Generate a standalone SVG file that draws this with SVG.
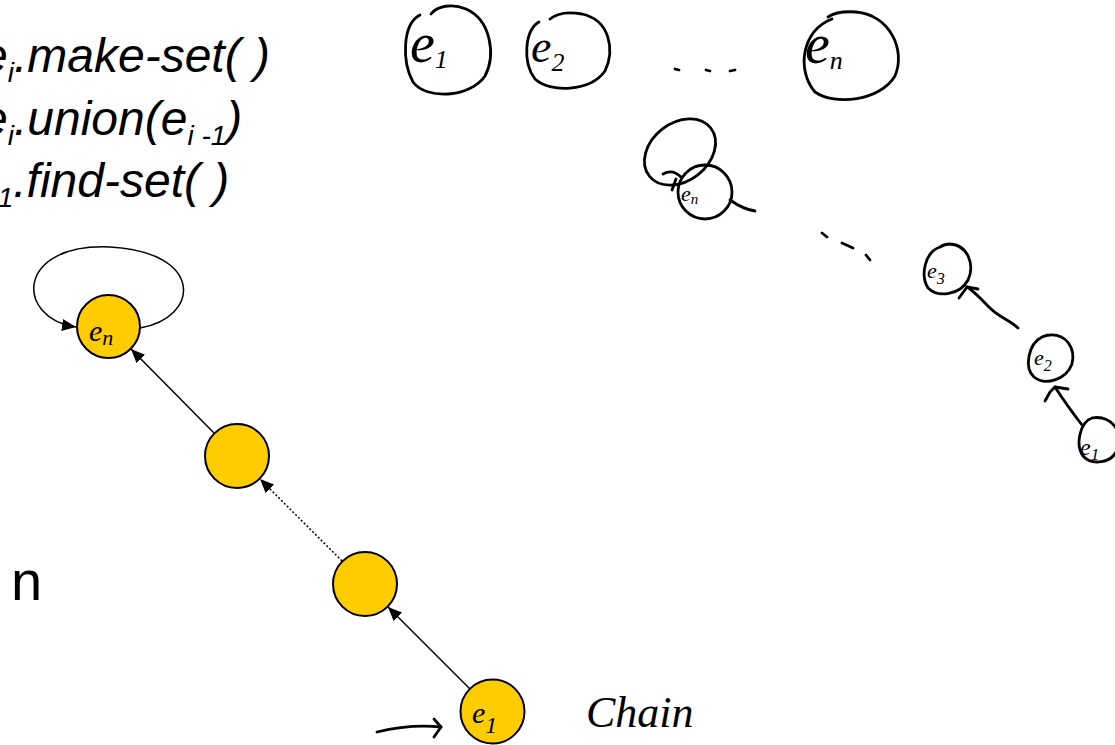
<svg xmlns="http://www.w3.org/2000/svg" width="1115" height="745" viewBox="0 0 1115 745">
<style>
.code{font-family:"Liberation Sans",Arial,sans-serif;font-style:italic;font-size:48px;fill:#000}
.sub{font-size:28px}
.node{fill:#FFCC00;stroke:#000;stroke-width:2}
.edge{fill:none;stroke:#000;stroke-width:1.5}
.dot{fill:none;stroke:#000;stroke-width:1.5;stroke-dasharray:2 2}
.ink{fill:none;stroke:#000;stroke-width:2.8;stroke-linecap:round;stroke-linejoin:round}
.hand{font-family:"Liberation Serif","DejaVu Serif",serif;font-style:italic;fill:#000}
</style>
<defs>
<marker id="arr" viewBox="0 0 14 12" refX="14" refY="6" markerWidth="14" markerHeight="12" markerUnits="userSpaceOnUse" orient="auto">
<path d="M0 0 L14 6 L0 12 Z" fill="#000"/>
</marker>
</defs>
<g id="text-ops">
<text class="code" x="-19" y="72">e<tspan class="sub" dy="10">i</tspan><tspan dy="-10">.make-set( )</tspan></text>
<text class="code" x="-19" y="135">e<tspan class="sub" dy="10">i</tspan><tspan dy="-10">.union(e</tspan><tspan class="sub" dy="10">i -1</tspan><tspan dy="-10">)</tspan></text>
<text class="code" x="-29" y="197">e<tspan class="sub" dy="10">1</tspan><tspan dy="-10">.find-set( )</tspan></text>
<text x="11" y="600" style="font-family:'Liberation Sans',Arial,sans-serif;font-size:56px">n</text>
</g>
<g id="connectors">
<line class="edge" x1="470" y1="689" x2="388" y2="607" marker-end="url(#arr)"/>
<line class="dot" x1="342" y1="561" x2="260" y2="479" marker-end="url(#arr)"/>
<line class="edge" x1="214" y1="433" x2="131" y2="349" marker-end="url(#arr)"/>
<path class="edge" d="M140 328 C200 318 205 252 110 247 C15 243 15 318 76 327" marker-end="url(#arr)"/>
</g>
<g id="node-en">
<circle class="node" cx="108.5" cy="326.5" r="31.5"/>
<text class="hand" x="89" y="341" font-size="30">e<tspan font-size="22" dy="4">n</tspan></text>
</g>
<g id="node-2">
<circle class="node" cx="237" cy="456" r="32"/>
</g>
<g id="node-3">
<circle class="node" cx="365" cy="584" r="32"/>
</g>
<g id="node-e1">
<circle class="node" cx="492.5" cy="711.5" r="32"/>
<text class="hand" x="472" y="723" font-size="30">e<tspan font-size="24" dy="10">1</tspan></text>
</g>
<g id="pointer-arrow">
<path class="ink" d="M377 732 Q410 724 441 727"/>
<path class="ink" d="M434 719 L441 727 L434 737"/>
</g>
<g id="label-chain">
<text class="hand" x="586" y="727" font-size="44">Chain</text>
</g>
<g id="top-e1">
<path class="ink" d="M420 15 C402 24 402 62 413 82 C426 100 470 98 485 76 C496 55 491 20 466 9 C452 3 437 6 431 14"/>
<text class="hand" x="410" y="62" font-size="56">e<tspan font-size="26" dy="6">1</tspan></text>
</g>
<g id="top-e2">
<path class="ink" d="M539 22 C525 30 522 62 535 79 C550 93 590 92 605 71 C615 50 610 20 582 14 C566 11 556 14 550 19"/>
<text class="hand" x="531" y="62" font-size="46">e<tspan font-size="26" dy="9">2</tspan></text>
</g>
<g id="top-dots">
<path class="ink" d="M675 69 L679 70 M706 70 L710 71 M730 71 L735 70"/>
</g>
<g id="top-en">
<path class="ink" d="M832 19 C802 30 796 70 815 92 C835 106 880 101 895 76 C906 50 890 15 856 12 C842 11 834 13 828 17"/>
<text class="hand" x="805" y="63" font-size="56">e<tspan font-size="26" dy="6">n</tspan></text>
</g>
<g id="mid-en">
<ellipse class="ink" cx="680" cy="152" rx="39" ry="29" transform="rotate(-38 680 152)"/>
<path class="ink" d="M663 174 C670 170 676 172 681 177 M672 190 L676 179"/>
<circle class="ink" cx="705" cy="192" r="27" fill="#fff"/>
<path class="ink" d="M730 200 C740 207 748 210 755 211"/>
<text class="hand" x="681" y="201" font-size="22">e<tspan font-size="15" dy="3">n</tspan></text>
</g>
<g id="mid-dashes">
<path class="ink" d="M822 233 L827 237 M842 243 L853 248 M866 255 L870 260"/>
</g>
<g id="right-e3">
<path class="ink" d="M940 247 C925 252 920 275 928 288 C938 298 960 295 968 280 C975 265 968 245 950 244 C946 244 943 245 940 247"/>
<text class="hand" x="927" y="278" font-size="22">e<tspan font-size="16" dy="6">3</tspan></text>
</g>
<g id="right-arrow-1">
<path class="ink" d="M1018 328 C1010 320 1000 318 990 308 C982 300 975 292 967 287"/>
<path class="ink" d="M959 298 L967 287 L978 289"/>
</g>
<g id="right-e2">
<path class="ink" d="M1042 337 C1028 344 1024 368 1034 377 C1045 386 1066 380 1072 364 C1076 348 1066 334 1050 335 C1047 335 1045 336 1042 337"/>
<text class="hand" x="1034" y="365" font-size="22">e<tspan font-size="16" dy="6">2</tspan></text>
</g>
<g id="right-arrow-2">
<path class="ink" d="M1082 425 C1072 412 1062 398 1055 387"/>
<path class="ink" d="M1045 401 L1050 392 L1055 387 L1068 389"/>
</g>
<g id="right-e1">
<path class="ink" d="M1092 418 C1080 422 1075 445 1083 456 C1092 466 1112 463 1117 450 M1117 430 C1112 420 1102 416 1092 418"/>
<text class="hand" x="1080" y="455" font-size="24">e<tspan font-size="17" dy="5">1</tspan></text>
</g>
</svg>
